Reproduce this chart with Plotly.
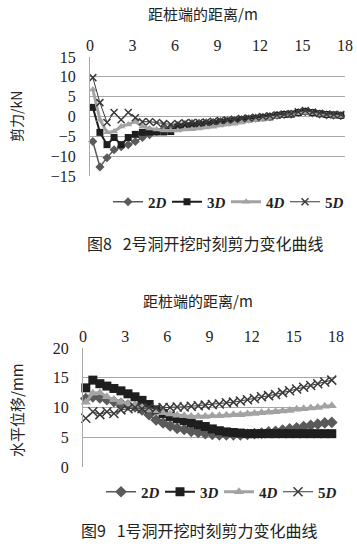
import plotly.graph_objects as go

# ---------------- data ----------------
dist = [0.2, 0.7, 1.2, 1.7, 2.2, 2.7, 3.2, 3.7, 4.2, 4.7, 5.2, 5.7,
        6.2, 6.7, 7.2, 7.7, 8.2, 8.7, 9.2, 9.7, 10.2, 10.7, 11.2, 11.7,
        12.2, 12.7, 13.2, 13.7, 14.2, 14.7, 15.2, 15.7, 16.2, 16.7, 17.2, 17.7]

x_ticks = [0, 3, 6, 9, 12, 15, 18]
y1_ticks = [-15, -10, -5, 0, 5, 10, 15]
y2_ticks = [0, 5, 10, 15, 20]

series_names = ["2D", "3D", "4D", "5D"]

# Fig 8: shear force (kN)
shear_2D = [-6.3, -12.7, -10.4, -8.4, -7.6, -7.1, -6.3, -5.3, -4.6, -3.8, -3.2, -2.8,
            -2.3, -2.0, -1.8, -1.7, -1.6, -1.5, -1.3, -1.1, -1.0, -0.8, -0.6, -0.4,
            -0.2, 0.0, 0.3, 0.5, 0.6, 1.0, 1.2, 0.9, 0.6, 0.4, 0.3, 0.2]
shear_3D = [2.3, -4.0, -7.1, -5.3, -7.1, -5.3, -4.5, -4.0, -3.9, -3.9, -3.9, -3.8,
            -2.8, -2.5, -2.3, -2.0, -1.9, -1.7, -1.5, -1.3, -1.1, -0.9, -0.7, -0.5,
            -0.3, -0.1, 0.3, 0.5, 0.6, 1.0, 1.3, 1.0, 0.7, 0.5, 0.4, 0.3]
shear_4D = [6.8, -0.8, -4.0, -3.8, -2.5, -2.0, -1.3, -2.5, -3.0, -3.3, -3.5, -3.5,
            -3.5, -3.3, -3.2, -3.0, -2.8, -2.6, -2.3, -2.0, -1.8, -1.5, -1.2, -0.9,
            -0.6, -0.3, 0.0, 0.3, 0.5, 0.8, 1.0, 0.8, 0.5, 0.3, 0.2, 0.1]
shear_5D = [9.8, 3.5, -1.5, 1.0, -0.8, 1.0, -0.3, -1.3, -1.3, -1.5, -1.8, -2.0,
            -1.8, -1.6, -1.5, -1.5, -1.4, -1.2, -1.0, -0.9, -0.7, -0.5, -0.4, -0.2,
            0.0, 0.2, 0.4, 0.6, 0.7, 1.2, 1.5, 1.1, 0.8, 0.6, 0.5, 0.5]

# Fig 9: horizontal displacement (mm)
disp_2D = [11.5, 11.8, 11.6, 11.3, 11.0, 10.7, 10.4, 10.1, 9.6, 8.8, 7.9, 7.4,
           6.9, 6.5, 6.3, 6.0, 5.8, 5.6, 5.5, 5.4, 5.4, 5.4, 5.4, 5.5,
           5.6, 5.7, 5.9, 6.0, 6.2, 6.4, 6.6, 6.8, 7.0, 7.2, 7.4, 7.5]
disp_3D = [13.3, 14.6, 14.0, 13.6, 13.2, 12.8, 12.3, 11.8, 11.2, 10.5, 9.6, 9.0,
           8.5, 8.1, 7.8, 7.4, 7.1, 6.8, 6.4, 6.1, 5.9, 5.8, 5.7, 5.6,
           5.6, 5.6, 5.6, 5.6, 5.6, 5.6, 5.6, 5.6, 5.6, 5.6, 5.6, 5.6]
disp_4D = [10.9, 12.4, 12.5, 11.8, 11.3, 10.9, 10.6, 10.3, 10.0, 9.6, 9.4, 9.1,
           8.9, 8.7, 8.6, 8.5, 8.5, 8.5, 8.6, 8.6, 8.7, 8.8, 8.8, 8.9,
           9.0, 9.1, 9.2, 9.3, 9.4, 9.5, 9.7, 9.8, 9.9, 10.0, 10.2, 10.3]
disp_5D = [8.2, 9.3, 8.8, 9.3, 9.0, 9.6, 9.8, 10.0, 9.8, 10.0, 9.9, 10.0,
           10.0, 10.1, 10.1, 10.2, 10.3, 10.4, 10.5, 10.6, 10.8, 10.9, 11.1, 11.3,
           11.5, 11.8, 12.0, 12.2, 12.5, 12.8, 13.1, 13.4, 13.7, 14.0, 14.3, 14.6]

# ---------------- styles ----------------
styles = [
    dict(color="#5a5a5a", symbol="diamond", lw=1.5, mline=0),
    dict(color="#1e1e1e", symbol="square", lw=2.0, mline=0),
    dict(color="#a3a3a3", symbol="triangle-up", lw=3.0, mline=0),
    dict(color="#3a3a3a", symbol="x-thin-open", lw=1.0, mline=1.5),
]
SERIF = "Liberation Serif, Times New Roman, serif"
CJK = "Noto Sans CJK SC, sans-serif"

fig = go.Figure()

def add_series(xs, ys, name, st, xa, ya, leg, msize):
    marker = dict(symbol=st["symbol"], size=msize, color=st["color"])
    if st["mline"]:
        marker["line"] = dict(width=st["mline"], color=st["color"])
    fig.add_trace(go.Scatter(
        x=xs, y=ys, mode="lines+markers",
        name="<b>" + name[0] + "<i>" + name[1:] + "</i></b>",
        line=dict(color=st["color"], width=st["lw"]),
        marker=marker, xaxis=xa, yaxis=ya, legend=leg, cliponaxis=False))

for name, ys, st in zip(series_names, [shear_2D, shear_3D, shear_4D, shear_5D], styles):
    add_series(dist, ys, name, st, "x", "y", "legend", 7)
for name, ys, st in zip(series_names, [disp_2D, disp_3D, disp_4D, disp_5D], styles):
    add_series(dist, ys, name, st, "x2", "y2", "legend2", 9)

W, H = 357, 560

def fx(px):
    return px / W

def fy(py):
    return 1 - py / H

grid = "#a8a8a8"
tickfont = dict(family=SERIF, size=16, color="#222")

def xax(dom, anchor):
    return dict(domain=dom, anchor=anchor, range=[0, 18], side="top",
                tickvals=x_ticks, showgrid=False, showline=False, zeroline=False,
                ticks="", tickfont=tickfont, ticklabelstandoff=2, fixedrange=True,
                automargin=False)

def yax(dom, anchor, rng, tv):
    return dict(domain=dom, anchor=anchor, range=rng, tickvals=tv,
                showgrid=True, gridcolor=grid, gridwidth=1,
                showline=True, linecolor=grid, linewidth=1, zeroline=False,
                ticks="", tickfont=tickfont, ticklabelstandoff=10, fixedrange=True,
                automargin=False)

legend_common = dict(orientation="h", font=dict(family=SERIF, size=15, color="#222"),
                     itemwidth=30, entrywidth=14, bgcolor="rgba(0,0,0,0)",
                     xanchor="center", yanchor="middle")

fig.update_layout(
    width=W, height=H, margin=dict(l=0, r=0, t=0, b=0, autoexpand=False),
    paper_bgcolor="white", plot_bgcolor="white",
    xaxis=xax([fx(90), fx(345)], "y"),
    yaxis=yax([fy(176), fy(57)], "x", [-15, 15], y1_ticks),
    xaxis2=xax([fx(83), fx(336)], "y2"),
    yaxis2=yax([fy(467), fy(348)], "x2", [0, 20], y2_ticks),
    legend=dict(legend_common, x=fx(226), y=fy(202)),
    legend2=dict(legend_common, x=fx(219), y=fy(492)),
    showlegend=True,
)

def ann(text, x, y, size=15, angle=0, family=CJK):
    fig.add_annotation(text=text, x=fx(x), y=fy(y), xref="paper", yref="paper",
                       showarrow=False, textangle=angle,
                       font=dict(family=family, size=size, color="#222"),
                       xanchor="center", yanchor="middle")

ann("距桩端的距离/m", 203, 13)
ann("剪力/kN", 16, 117, size=14, angle=-90)
ann("图8   2号洞开挖时刻剪力变化曲线", 206, 243, size=16)
ann("距桩端的距离/m", 198, 300)
ann("水平位移/mm", 16, 410, angle=-90)
ann("图9   1号洞开挖时刻剪力变化曲线", 199, 530, size=16)

# remove the default 8px page margin so the figure fills the window exactly
fig.write_html("out.html", config={"displayModeBar": False},
               post_script="document.body.style.margin='0';")
